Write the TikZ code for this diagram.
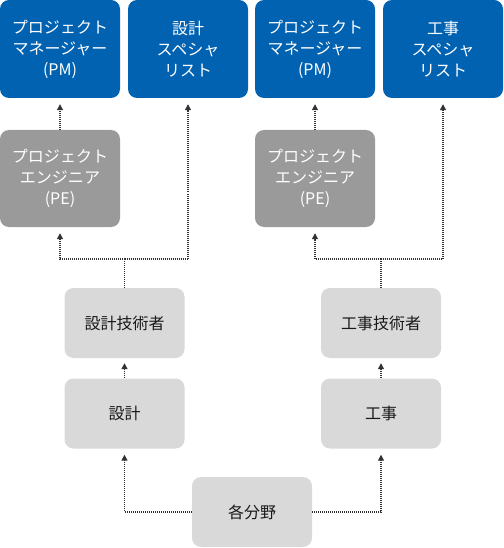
\documentclass[tikz,border=0pt]{standalone}
\usepackage{fontspec}
\setmainfont{Noto Sans CJK JP}
\usepackage{tikz}
\usetikzlibrary{calc,positioning,arrows.meta}
\definecolor{roleblue}{HTML}{0062B1}
\definecolor{rolegray}{HTML}{9A9A9A}
\definecolor{taskgray}{HTML}{D9D9D9}
\definecolor{linegray}{HTML}{333333}

\begin{document}
\begin{tikzpicture}[x=1pt, y=1pt,
  every node/.style={font=\fontsize{16}{21}\selectfont, align=center, inner sep=0pt, rounded corners=9pt},
  role/.style={fill=roleblue, text=white, minimum width=120pt, minimum height=98pt},
  peng/.style={fill=rolegray, text=white, minimum width=120pt, minimum height=97pt},
  task/.style={fill=taskgray, text=black!90, minimum width=120pt, minimum height=70pt},
  link/.style={linegray, line width=1.3pt, dash pattern=on 1pt off 1pt},
  arr/.style={link, -{Triangle[width=6pt,length=6pt]}, shorten >=6pt}]
  \useasboundingbox (0,0) rectangle (503,-548);

  % Top row
  \node[role] (pm1) at (60,-49) {プロジェクト\\マネージャー\\(PM)};
  \node[role] (ds1) at (188,-49) {設計\\スペシャ\\リスト};
  \node[role] (pm2) at (315,-49) {プロジェクト\\マネージャー\\(PM)};
  \node[role] (cs2) at (443,-49) {工事\\スペシャ\\リスト};

  % Engineers
  \node[peng] (pe1) at (60,-178.5) {プロジェクト\\エンジニア\\(PE)};
  \node[peng] (pe2) at (315,-178.5) {プロジェクト\\エンジニア\\(PE)};

  % Tasks
  \node[task] (dtech) at (124.5,-323) {設計技術者};
  \node[task] (design) at (124.5,-413.5) {設計};
  \node[task] (ctech) at (381,-323) {工事技術者};
  \node[task] (constr) at (381,-413.5) {工事};
  \node[task] (field) at (252,-512) {各分野};

  % Junctions
  \coordinate (j1) at (124.5,-259);
  \coordinate (j2) at (381,-259);

  % Arrows
  \draw[arr] (pe1) -- (pm1);
  \draw[arr] (pe2) -- (pm2);
  \draw[link] (dtech) -- (j1);
  \draw[arr] (j1) -| (pe1);
  \draw[arr] (j1) -| (ds1);
  \draw[link] (ctech) -- (j2);
  \draw[arr] (j2) -| (pe2);
  \draw[arr] (j2) -| (cs2);
  \draw[arr, shorten >=5pt] (design) -- (dtech);
  \draw[arr, shorten >=5pt] (constr) -- (ctech);
  \draw[arr] (field) -| (design);
  \draw[arr] (field) -| (constr);
\end{tikzpicture}
\end{document}
